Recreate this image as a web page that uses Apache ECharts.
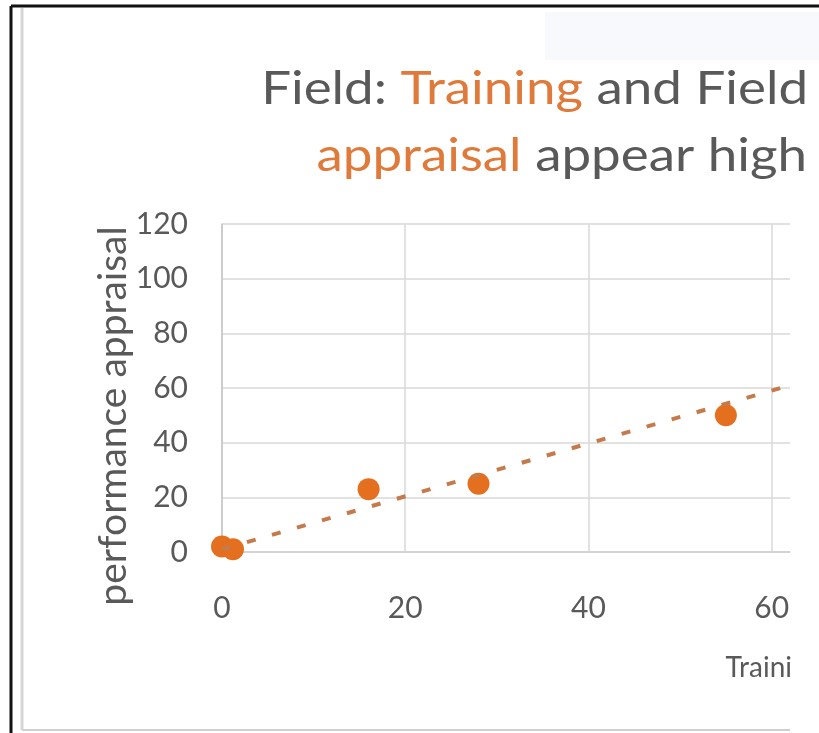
<!DOCTYPE html>
<html>
<head>
<meta charset="utf-8">
<script src="https://cdn.jsdelivr.net/npm/echarts@6/dist/echarts.min.js"></script>
<style>
html,body{margin:0;padding:0;background:#fff;}
#chart{width:819px;height:733px;}
</style>
</head>
<body>
<div id="chart"></div>
<script>
// Data
var trainingValues = [0, 1.2, 16, 28, 55];
var appraisalValues = [2, 1, 23, 25, 50];
var trendX = [0, 62];          // trendline end points as drawn (forecast to axis edge)
var trendY = [1, 61];
var xTickLabels = ['0', '20', '40', '60'];
var yTickLabels = ['0', '20', '40', '60', '80', '100', '120'];
var titleLine1 = ['Field: ', 'Training', ' and Field'];
var titleLine2 = ['appraisal', ' appear high'];
var yAxisName = 'performance appraisal';
var xAxisName = 'Traini';

var points = trainingValues.map(function (x, i) { return [x, appraisalValues[i]]; });
var trend = trendX.map(function (x, i) { return [x, trendY[i]]; });
var xMax = 62;

var DARK = '#595959', ORANGE = '#E07A3A';
var FONT = 'Lato';
var richStyles = {
  d: {fill: DARK, fontFamily: FONT, fontSize: 46, fontWeight: 'normal'},
  o: {fill: ORANGE, fontFamily: FONT, fontSize: 46, fontWeight: 'normal'}
};

var chart = echarts.init(document.getElementById('chart'), null, {renderer: 'canvas'});
chart.setOption({
  backgroundColor: '#ffffff',
  animation: false,
  grid: {left: 222, top: 224, width: 568, height: 328, containLabel: false},
  xAxis: {
    type: 'value', min: 0, max: xMax, interval: 20,
    axisLine: {show: true, lineStyle: {color: '#d0d0d0', width: 1.5}},
    axisTick: {show: false},
    axisLabel: {
      color: DARK, fontFamily: FONT, fontSize: 30, margin: 41, showMaxLabel: false,
      formatter: function (v) { var i = xTickLabels.indexOf(String(v)); return i >= 0 ? xTickLabels[i] : ''; }
    },
    splitLine: {show: true, showMaxLine: false, lineStyle: {color: '#d9d9d9', width: 1.5}}
  },
  yAxis: {
    type: 'value', min: 0, max: 120, interval: 20,
    axisLine: {show: true, lineStyle: {color: '#c4c4c4', width: 1.5}},
    axisTick: {show: false},
    axisLabel: {
      color: DARK, fontFamily: FONT, fontSize: 30, margin: 34,
      formatter: function (v) { var i = yTickLabels.indexOf(String(v)); return i >= 0 ? yTickLabels[i] : ''; }
    },
    splitLine: {show: true, lineStyle: {color: '#d9d9d9', width: 1.5}}
  },
  series: [
    {
      type: 'scatter', data: points, symbol: 'circle', symbolSize: 22,
      itemStyle: {color: '#E46F1F', opacity: 1}, z: 2
    },
    {
      type: 'line', data: trend, showSymbol: false, symbol: 'none',
      lineStyle: {color: '#C47A4A', width: 4, type: [9, 17]}, z: 3, silent: true
    }
  ],
  graphic: [
    {type: 'rect', shape: {x: 545, y: 12, width: 274, height: 48}, style: {fill: '#f8f9fc'}, z: -10},
    {type: 'line', shape: {x1: 11, y1: 6, x2: 819, y2: 6}, style: {stroke: '#111', lineWidth: 3}},
    {type: 'line', shape: {x1: 11, y1: 6, x2: 11, y2: 733}, style: {stroke: '#111', lineWidth: 3}},
    {type: 'line', shape: {x1: 22, y1: 8, x2: 22, y2: 730}, style: {stroke: '#d6d6d6', lineWidth: 3}},
    {type: 'line', shape: {x1: 22, y1: 730, x2: 790, y2: 730}, style: {stroke: '#d0d0d0', lineWidth: 2}},
    {type: 'text', x: 808, y: 89, scaleX: 1.15, style: {
      text: '{d|' + titleLine1[0] + '}{o|' + titleLine1[1] + '}{d|' + titleLine1[2] + '}',
      rich: richStyles, align: 'right', verticalAlign: 'middle', font: '46px Lato'}},
    {type: 'text', x: 807, y: 156, scaleX: 1.15, style: {
      text: '{o|' + titleLine2[0] + '}{d|' + titleLine2[1] + '}',
      rich: richStyles, align: 'right', verticalAlign: 'middle', font: '46px Lato'}},
    {type: 'text', x: 113, y: 416, rotation: Math.PI / 2, style: {
      text: yAxisName, fill: DARK, font: '39px Lato', align: 'center', verticalAlign: 'middle'}},
    {type: 'text', x: 792, y: 668, style: {text: xAxisName, fill: DARK, font: '28px Lato', align: 'right', verticalAlign: 'middle'}}
  ]
});
</script>
</body>
</html>
